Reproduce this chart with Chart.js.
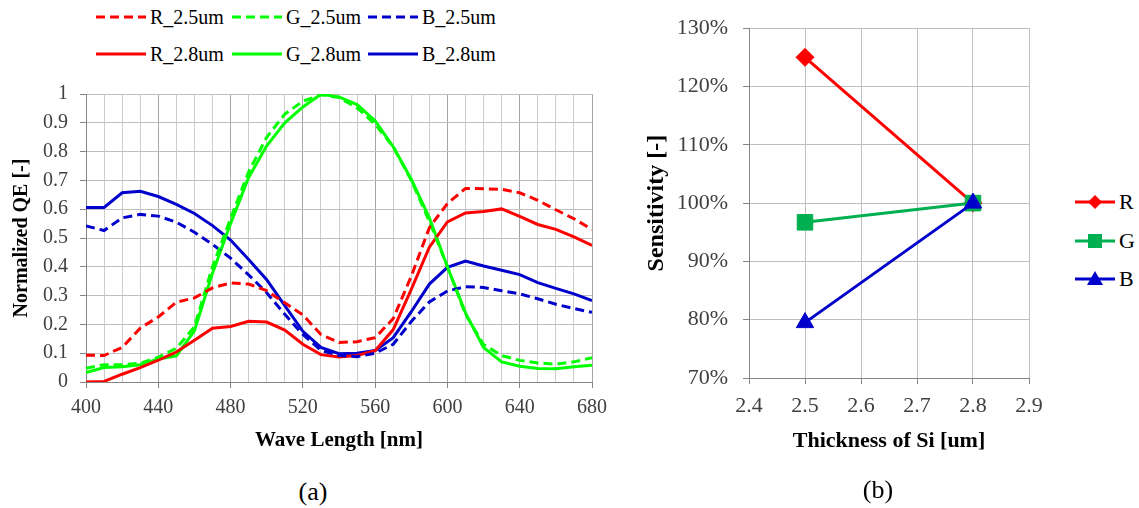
<!DOCTYPE html>
<html>
<head>
<meta charset="utf-8">
<script src="https://cdn.jsdelivr.net/npm/chart.js@4"></script>
<style>
  html, body { margin: 0; padding: 0; background: #fff; }
  body {
    width: 1139px; height: 508px; position: relative; overflow: hidden;
    font-family: "Liberation Serif", "Times New Roman", serif; color: #000;
  }
  #qe { position: absolute; left: 0; top: 70px; }
  #sens { position: absolute; left: 640px; top: 0; }
  .lg-item { position: absolute; display: flex; align-items: center; height: 26px; white-space: nowrap; }
  .lg-item svg { display: block; margin-right: 4px; }
  .caption { position: absolute; font-size: 26px; transform: translate(-50%, -50%); }
</style>
</head>
<body>
<canvas id="qe" width="640" height="390"></canvas>
<canvas id="sens" width="430" height="480"></canvas>
<div id="legendA"></div>
<div id="legendB"></div>
<div class="caption" style="left:313px; top:492px;">(a)</div>
<div class="caption" style="left:878px; top:490px;">(b)</div>
<script>
// (a) normalized QE vs wavelength
const wavelengths = [400, 410, 420, 430, 440, 450, 460, 470, 480, 490, 500, 510, 520, 530, 540,
  550, 560, 570, 580, 590, 600, 610, 620, 630, 640, 650, 660, 670, 680];

const r25 = [0.093, 0.092, 0.12, 0.187, 0.226, 0.277, 0.292, 0.327, 0.344, 0.340, 0.317, 0.275, 0.233, 0.165, 0.137,
  0.140, 0.154, 0.220, 0.367, 0.536, 0.620, 0.672, 0.671, 0.669, 0.657, 0.631, 0.598, 0.567, 0.530];
const g25 = [0.048, 0.060, 0.060, 0.065, 0.086, 0.117, 0.192, 0.400, 0.568, 0.730, 0.850, 0.930, 0.975, 0.997, 0.988,
  0.952, 0.895, 0.817, 0.700, 0.558, 0.400, 0.235, 0.130, 0.092, 0.075, 0.066, 0.062, 0.070, 0.084];
const b25 = [0.542, 0.526, 0.570, 0.582, 0.576, 0.555, 0.520, 0.478, 0.430, 0.372, 0.310, 0.235, 0.165, 0.110, 0.092,
  0.088, 0.100, 0.131, 0.210, 0.278, 0.316, 0.331, 0.328, 0.317, 0.306, 0.289, 0.270, 0.255, 0.242];
const r28 = [0.000, 0.002, 0.027, 0.050, 0.076, 0.104, 0.145, 0.187, 0.193, 0.211, 0.208, 0.180, 0.131, 0.095, 0.087,
  0.092, 0.109, 0.182, 0.322, 0.468, 0.556, 0.587, 0.592, 0.601, 0.575, 0.547, 0.530, 0.504, 0.474];
const g28 = [0.033, 0.050, 0.053, 0.060, 0.080, 0.091, 0.178, 0.378, 0.550, 0.710, 0.820, 0.900, 0.955, 0.999, 0.990,
  0.963, 0.907, 0.817, 0.704, 0.570, 0.400, 0.240, 0.120, 0.070, 0.055, 0.047, 0.046, 0.053, 0.058];
const b28 = [0.606, 0.606, 0.657, 0.662, 0.644, 0.617, 0.585, 0.543, 0.493, 0.425, 0.355, 0.265, 0.176, 0.120, 0.098,
  0.100, 0.109, 0.154, 0.244, 0.340, 0.398, 0.420, 0.403, 0.388, 0.373, 0.345, 0.325, 0.306, 0.283];

// (b) sensitivity vs Si thickness
const thickness = [2.5, 2.8];
const sensR = [125, 100];
const sensG = [96.7, 100];
const sensB = [79.5, 100];

const RED = "#ff0000";
const LIME = "#00ff00";
const BLUE = "#0000cc";
const GREEN = "#00b050";
const DASH = [9, 5];

const qeSeries = [
  { label: "R_2.5um", data: r25, color: RED, dash: DASH },
  { label: "G_2.5um", data: g25, color: LIME, dash: DASH },
  { label: "B_2.5um", data: b25, color: BLUE, dash: DASH },
  { label: "R_2.8um", data: r28, color: RED, dash: [] },
  { label: "G_2.8um", data: g28, color: LIME, dash: [] },
  { label: "B_2.8um", data: b28, color: BLUE, dash: [] }
];

const tickFont = { family: "Liberation Serif", size: 20 };
const titleFont = { family: "Liberation Serif", size: 20, weight: "bold" };

new Chart(document.getElementById("qe"), {
  type: "line",
  data: {
    datasets: qeSeries.map(s => ({
      label: s.label,
      data: wavelengths.map((w, i) => ({ x: w, y: s.data[i] })),
      borderColor: s.color,
      borderDash: s.dash,
      borderWidth: 3,
      pointRadius: 0,
      tension: 0
    }))
  },
  options: {
    responsive: false,
    animation: false,
    layout: { padding: { top: 15, right: 48, left: 0, bottom: 0 } },
    plugins: { legend: { display: false }, tooltip: { enabled: false } },
    scales: {
      x: {
        type: "linear",
        min: 400,
        max: 680,
        afterFit: s => { s.height = 78; },
        ticks: {
          stepSize: 10,
          autoSkip: false,
          maxRotation: 0,
          padding: 8,
          color: "#404040",
          font: tickFont,
          callback: v => (v % 40 === 0 ? String(v) : "")
        },
        grid: {
          color: c => (c.tick && c.tick.value % 40 === 0 ? "#a6a6a6" : "#cccccc"),
          tickColor: c => (c.tick && c.tick.value % 40 === 0 ? "#868686" : "rgba(0,0,0,0)"),
          tickLength: 6
        },
        border: { color: "#868686" },
        title: {
          display: true,
          text: "Wave Length [nm]",
          color: "#000",
          font: { family: "Liberation Serif", size: 21, weight: "bold" },
          padding: { top: 0, bottom: 7 }
        }
      },
      y: {
        min: 0,
        max: 1,
        afterFit: s => { s.width = 86; },
        ticks: {
          stepSize: 0.1,
          padding: 12,
          color: "#404040",
          font: tickFont,
          callback: v => String(Math.round(v * 10) / 10)
        },
        grid: { color: "#bfbfbf", tickColor: "#868686", tickLength: 6 },
        border: { color: "#868686" },
        title: {
          display: true,
          text: "Normalized QE [-]",
          color: "#000",
          font: titleFont,
          padding: { top: 10, bottom: 0 }
        }
      }
    }
  }
});

const sensSeries = [
  { label: "R", data: sensR, color: RED, marker: "rectRot", radius: 9, order: 2 },
  { label: "G", data: sensG, color: GREEN, marker: "rect", radius: 11, order: 1 },
  { label: "B", data: sensB, color: BLUE, marker: "triangle", radius: 10, order: 0 }
];

new Chart(document.getElementById("sens"), {
  type: "line",
  data: {
    datasets: sensSeries.map(s => ({
      label: s.label,
      data: thickness.map((t, i) => ({ x: t, y: s.data[i] })),
      borderColor: s.color,
      backgroundColor: s.color,
      borderWidth: 3,
      pointStyle: s.marker,
      pointRadius: s.radius,
      pointBorderWidth: 1,
      order: s.order,
      tension: 0
    }))
  },
  options: {
    responsive: false,
    animation: false,
    layout: { padding: { top: 27, right: 41, left: 0, bottom: 0 } },
    plugins: { legend: { display: false }, tooltip: { enabled: false } },
    scales: {
      x: {
        type: "linear",
        min: 2.4,
        max: 2.9,
        afterFit: s => { s.height = 102; },
        ticks: {
          stepSize: 0.1,
          padding: 9,
          color: "#404040",
          font: { family: "Liberation Serif", size: 22 },
          callback: v => v.toFixed(1)
        },
        grid: { color: "#bfbfbf", tickColor: "#868686", tickLength: 6 },
        border: { color: "#868686" },
        title: {
          display: true,
          text: "Thickness of Si [um]",
          color: "#000",
          font: { family: "Liberation Serif", size: 22, weight: "bold" },
          padding: { top: 0, bottom: 25 }
        }
      },
      y: {
        min: 70,
        max: 130,
        afterFit: s => { s.width = 109; },
        ticks: {
          stepSize: 10,
          padding: 15,
          color: "#404040",
          font: { family: "Liberation Serif", size: 22 },
          callback: v => v + "%"
        },
        grid: { color: "#bfbfbf", tickColor: "#868686", tickLength: 6 },
        border: { color: "#868686" },
        title: {
          display: true,
          text: "Sensitivity [-]",
          color: "#000",
          font: { family: "Liberation Serif", size: 24, weight: "bold" },
          padding: { top: 2, bottom: 0 }
        }
      }
    }
  }
});

// legends (HTML, built from the series lists)
const legendA = document.getElementById("legendA");
qeSeries.forEach((s, i) => {
  const col = i % 3;
  const row = Math.floor(i / 3);
  const el = document.createElement("div");
  el.className = "lg-item";
  el.style.left = (96 + col * 136) + "px";
  el.style.top = (17 + row * 37 - 13) + "px";
  el.style.fontSize = "20px";
  el.innerHTML =
    '<svg width="50" height="8"><line x1="0" y1="4" x2="50" y2="4" stroke="' + s.color +
    '" stroke-width="3" stroke-dasharray="' + (s.dash.length ? s.dash.join(" ") : "none") + '"/></svg>' +
    "<span>" + s.label + "</span>";
  legendA.appendChild(el);
});

function markerSvg(s) {
  if (s.marker === "rectRot") return '<polygon points="20,2 27,9 20,16 13,9" fill="' + s.color + '"/>';
  if (s.marker === "rect") return '<rect x="13" y="2" width="14" height="14" fill="' + s.color + '"/>';
  return '<polygon points="20,1 28,15 12,15" fill="' + s.color + '"/>';
}

const legendB = document.getElementById("legendB");
sensSeries.forEach((s, i) => {
  const el = document.createElement("div");
  el.className = "lg-item";
  el.style.left = "1075px";
  el.style.top = (202 + i * 38.5 - 13) + "px";
  el.style.fontSize = "22px";
  el.innerHTML =
    '<svg width="40" height="18"><line x1="0" y1="9" x2="40" y2="9" stroke="' + s.color +
    '" stroke-width="3"/>' + markerSvg(s) + "</svg><span>" + s.label + "</span>";
  legendB.appendChild(el);
});
</script>
</body>
</html>
